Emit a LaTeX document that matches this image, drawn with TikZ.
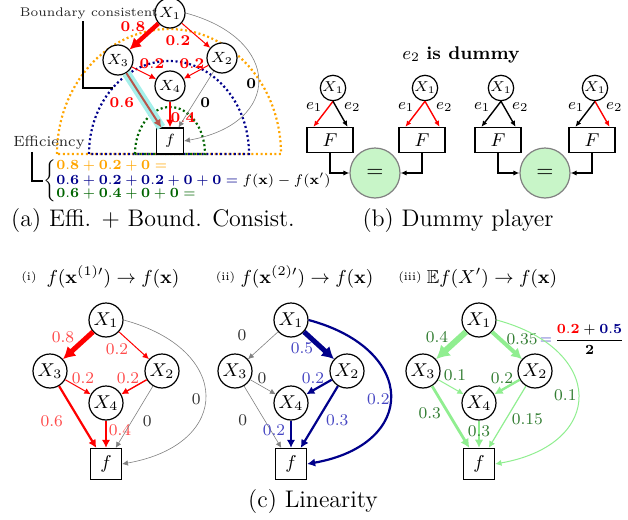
\RequirePackage{fix-cm}
\documentclass[tikz,border=0pt]{standalone}
\usepackage{amsmath,amssymb}
\usetikzlibrary{arrows.meta, positioning}

\definecolor{cnavy}{RGB}{0,0,139}
\definecolor{cnavyl}{RGB}{70,70,195}
\definecolor{cred}{RGB}{255,75,75}
\definecolor{clgreen}{RGB}{144,238,144}
\definecolor{cdgreen}{RGB}{50,125,50}
\definecolor{cdkgreen}{RGB}{0,100,0}
\definecolor{corange}{RGB}{255,165,0}
\definecolor{ceq}{RGB}{200,245,200}
\definecolor{cband}{RGB}{165,240,235}
\definecolor{cbrown}{RGB}{185,85,75}

\begin{document}
\begin{tikzpicture}[
  x=0.5pt, y=-0.5pt,
  xa/.style={circle, draw, fill=white, line width=0.6pt, minimum size=15pt, inner sep=0pt, font=\fontsize{7.4}{8}\selectfont},
  fa/.style={draw, fill=white, line width=0.6pt, minimum width=13.5pt, minimum height=13pt, inner sep=0pt, font=\fontsize{7.4}{8}\selectfont},
  xb/.style={circle, draw, line width=0.6pt, minimum size=12.7pt, inner sep=0pt, font=\fontsize{7.2}{8}\selectfont},
  fb/.style={draw, line width=0.6pt, minimum width=23pt, minimum height=12.5pt, inner sep=0pt, font=\fontsize{9.3}{10}\selectfont},
  eqc/.style={circle, draw=gray, fill=ceq, line width=0.6pt, minimum size=25pt, inner sep=0pt, font=\fontsize{11}{12}\selectfont},
  xc/.style={circle, draw, fill=white, line width=0.6pt, minimum size=17pt, inner sep=0pt, font=\fontsize{9.3}{10}\selectfont},
  fc/.style={draw, fill=white, line width=0.6pt, minimum size=15.5pt, inner sep=0pt, font=\fontsize{9.3}{10}\selectfont},
  arr/.style={-{Latex[length=2.5pt 1.4, width=2.2pt 1.8]}},
  barr/.style={-{Latex[length=3pt, width=2.6pt]}, line width=0.7pt},
  gr/.style={gray, line width=0.3pt},
  band/.style={cband, line width=4.5pt},
  dotarc/.style={line width=1.1pt, dash pattern=on 1pt off 1.3pt},
  la/.style={font=\fontsize{7.5}{8}\selectfont, inner sep=0pt},
  lb/.style={font=\fontsize{8}{9}\selectfont, inner sep=0pt},
  lc/.style={font=\fontsize{8.2}{9}\selectfont, inner sep=0pt},
  note/.style={font=\fontsize{6.3}{7}\selectfont, text=black!85, inner sep=1pt, anchor=base},
  ttl/.style={font=\fontsize{9.4}{11}\selectfont, inner sep=0pt, anchor=base},
  num/.style={font=\fontsize{5.8}{7}\selectfont, inner sep=0pt, anchor=base},
  capt/.style={font=\fontsize{12}{14}\selectfont, inner sep=0pt, anchor=base},
  shiftpx/.style 2 args={xshift=(#1)*0.5pt, yshift=-(#2)*0.5pt}
]
  \useasboundingbox (0,0) rectangle (628,520);

  % (a) efficiency and boundary consistency
  \draw[dotarc, corange] (57,154) arc[start angle=180, end angle=360, x radius=112, y radius=125] -- cycle;
  \draw[dotarc, cnavy] (89,154) arc[start angle=180, end angle=360, x radius=80, y radius=93] -- cycle;
  \draw[dotarc, cdkgreen] (135,154) arc[start angle=180, end angle=360, x radius=35, y radius=47] -- cycle;

  \node[xa] (a1) at (170,13) {$X_1$};
  \node[xa] (a3) at (118,60) {$X_3$};
  \node[xa] (a2) at (222,58) {$X_2$};
  \node[xa] (a4) at (170,86) {$X_4$};
  \node[fa] (af) at (170,141) {$f$};

  \draw[arr, red, line width=2.2pt] (a1) -- node[la, shiftpx={-11}{-10}] {$\mathbf{0.8}$} (a3);
  \draw[arr, red, line width=0.5pt] (a1) -- node[la, shiftpx={-18}{5}] {$\mathbf{0.2}$} (a2);
  \draw[arr, red, line width=0.5pt] (a3) -- node[la, shiftpx={8}{-9}] {$\mathbf{0.2}$} (a4);
  \draw[arr, red, line width=0.5pt] (a2) -- node[la, shiftpx={-4}{-8}] {$\mathbf{0.2}$} (a4);
  \draw[band] (a3) -- (af);
  \draw[arr, cbrown, line width=1pt] (a3) -- node[la, red, shiftpx={-22}{2}] {$\mathbf{0.6}$} (af);
  \draw[arr, red, line width=1pt] (a4) -- node[la, shiftpx={13}{3}] {$\mathbf{0.4}$} (af);
  \draw[arr, gr] (a2) -- node[la, black, shiftpx={9}{3}] {$\mathbf{0}$} (af);
  \draw[arr, gr] (a1.east) to[out=-15, in=10, looseness=2] node[la, black, shiftpx={-7}{3}] {$\mathbf{0}$} (af.east);

  \node[note] (bc) at (89,16.5) {Boundary consistent};
  \coordinate (bcend) at (113,88);
  \draw[line width=0.6pt] ([xshift=-3pt]bc.south) |- (bcend);

  \node[note, font=\fontsize{7.4}{8}\selectfont] (eff) at (49,146.5) {Efficiency};
  \node[anchor=west, inner sep=0pt, font=\fontsize{7}{6.5}\selectfont] (eq) at (43,181) {$\left\{\begin{array}{@{}l@{}}
    \color{corange}\mathbf{0.8}+\mathbf{0.2}+\mathbf{0}=\\
    \color{cnavy}\mathbf{0.6}+\mathbf{0.2}+\mathbf{0.2}+\mathbf{0}+\mathbf{0}={\color{black}f(\mathbf{x})-f(\mathbf{x}')}\\
    \color{cdkgreen}\mathbf{0.6}+\mathbf{0.4}+\mathbf{0}+\mathbf{0}=
  \end{array}\right.$};
  \draw[line width=0.6pt] ([xshift=-8.5pt]eff.south) |- (eq.west);

  \node[capt] (capa) at (153,226) {(a) Effi. + Bound. Consist.};

  % (b) dummy player
  \node[ttl, font=\fontsize{9.2}{11}\selectfont] (dum) at (461,59) {$e_2$ \textbf{is dummy}};
  \foreach \k/\xx in {1/330, 2/422, 3/498, 4/592}{
    \node[fb] (bf\k) at (\xx,140) {$F$};
    \node[xb] (bx\k) at (\xx+3,88) {$X_1$};
  }
  \foreach \k/\ca/\cb in {1/red/black, 2/red/red, 3/black/black, 4/black/red}{
    \draw[barr, \ca] (bx\k.south) -- node[lb, black, shiftpx={-9}{-7}] {$e_1$} ([xshift=3.5pt]bf\k.north west);
    \draw[barr, \cb] (bx\k.south) -- node[lb, black, shiftpx={12}{-7}] {$e_2$} ([xshift=-3pt]bf\k.north east);
  }
  \node[eqc] (bqa) at (375,173) {$=$};
  \node[eqc] (bqb) at (545,173) {$=$};
  \draw[barr] (bf1.south) |- (bqa.west);
  \draw[barr] (bf2.south) |- (bqa.east);
  \draw[barr] (bf3.south) |- (bqb.west);
  \draw[barr] (bf4.south) |- (bqb.east);

  \node[capt] (capb) at (458,226) {(b) Dummy player};

  % (c) linearity
  \foreach \p/\dx in {i/0, j/185, k/373}{
    \node[xc] (\p-1) at (106+\dx,320) {$X_1$};
    \node[xc] (\p-3) at (50+\dx,371) {$X_3$};
    \node[xc] (\p-2) at (162+\dx,371) {$X_2$};
    \node[xc] (\p-4) at (106+\dx,403) {$X_4$};
    \node[fc] (\p-f) at (106+\dx,464) {$f$};
  }
  \node[num] (ni) at (29,280) {(i)};
  \node[ttl] (ti) at (113,283) {$f(\mathbf{x}^{(1)\prime})\to f(\mathbf{x})$};
  \node[num] (nj) at (225.5,280) {(ii)};
  \node[ttl] (tj) at (307,283) {$f(\mathbf{x}^{(2)\prime})\to f(\mathbf{x})$};
  \node[num] (nk) at (410,280) {(iii)};
  \node[ttl] (tk) at (492,283) {$\mathbb{E}f(X')\to f(\mathbf{x})$};

  % (i)
  \draw[arr, red, line width=2.5pt] (i-1) -- node[lc, text=cred, shiftpx={-15}{-8}] {0.8} (i-3);
  \draw[arr, red, line width=0.5pt] (i-1) -- node[lc, text=cred, shiftpx={-17}{4}] {0.2} (i-2);
  \draw[arr, red, line width=0.5pt] (i-3) -- node[lc, text=cred, shiftpx={5}{-9}] {0.2} (i-4);
  \draw[arr, red, line width=0.7pt] (i-2) -- node[lc, text=cred, shiftpx={-6}{-9}] {0.2} (i-4);
  \draw[arr, red, line width=1.1pt] (i-3) -- node[lc, text=cred, shiftpx={-26}{4}] {0.6} (i-f);
  \draw[arr, red, line width=1.1pt] (i-4) -- node[lc, text=cred, shiftpx={14}{-4}] {0.4} (i-f);
  \draw[arr, gr] (i-2) -- node[lc, text=black!80, shiftpx={13}{4}] {0} (i-f);
  \draw[arr, gr] (i-1.east) to[out=-15, in=10, looseness=2] node[lc, text=black!80, shiftpx={-9}{4}] {0} (i-f.east);

  % (ii)
  \draw[arr, gr] (j-1) -- node[lc, text=black!80, shiftpx={-21}{-10}] {0} (j-3);
  \draw[arr, cnavy, line width=2.5pt] (j-1) -- node[lc, text=cnavyl, shiftpx={-17}{3}] {0.5} (j-2);
  \draw[arr, gr] (j-3) -- node[lc, text=black!80, shiftpx={-1}{-9}] {0} (j-4);
  \draw[arr, cnavy, line width=1.1pt] (j-2) -- node[lc, text=cnavyl, shiftpx={-6}{-9}] {0.2} (j-4);
  \draw[arr, gr] (j-3) -- node[lc, text=black!80, shiftpx={-20}{3}] {0} (j-f);
  \draw[arr, cnavy, line width=1.1pt] (j-4) -- node[lc, text=cnavyl, shiftpx={-17}{-4}] {0.2} (j-f);
  \draw[arr, cnavy, line width=1.1pt] (j-2) -- node[lc, text=cnavyl, shiftpx={18}{3}] {0.3} (j-f);
  \draw[arr, cnavy, line width=1.1pt] (j-1.east) to[out=-15, in=10, looseness=2] node[lc, text=cnavyl, shiftpx={-12}{4}] {0.2} (j-f.east);

  % (iii)
  \draw[arr, clgreen, line width=3pt] (k-1) -- node[lc, text=cdgreen, shiftpx={-14}{-8}] {0.4} (k-3);
  \draw[arr, clgreen, line width=2pt] (k-1) -- node[lc, text=cdgreen, shiftpx={15}{-6}] (k-35) {0.35} (k-2);
  \node[right=0pt of k-35, inner sep=0pt, font=\fontsize{7}{8}\selectfont] (kfrac)
    {\textcolor{cnavyl}{$=$}\,$\dfrac{\textcolor{red}{\mathbf{0.2}}+\textcolor{cnavy}{\mathbf{0.5}}}{\mathbf{2}}$};
  \draw[arr, clgreen, line width=0.5pt] (k-3) -- node[lc, text=cdgreen, shiftpx={4}{-12}] {0.1} (k-4);
  \draw[arr, clgreen, line width=1.2pt] (k-2) -- node[lc, text=cdgreen, shiftpx={-5}{-9}] {0.2} (k-4);
  \draw[arr, clgreen, line width=1.4pt] (k-3) -- node[lc, text=cdgreen, shiftpx={-21}{-4}] {0.3} (k-f);
  \draw[arr, clgreen, line width=1.2pt] (k-4) -- node[lc, text=cdgreen, shiftpx={0}{-3}] {0.3} (k-f);
  \draw[arr, clgreen, line width=0.6pt] (k-2) -- node[lc, text=cdgreen, shiftpx={20}{2}] {0.15} (k-f);
  \draw[arr, clgreen, line width=0.5pt] (k-1.east) to[out=-15, in=10, looseness=2] node[lc, text=cdgreen, shiftpx={-13}{0}] {0.1} (k-f.east);

  \node[capt] (capc) at (313,507) {(c) Linearity};
\end{tikzpicture}
\end{document}
